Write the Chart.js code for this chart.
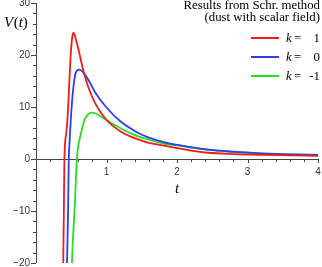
<!DOCTYPE html>
<html>
<head>
<meta charset="utf-8">
<script src="https://cdn.jsdelivr.net/npm/chart.js@4"></script>
<style>
  html, body { margin: 0; padding: 0; background: #fff; overflow: hidden; }
  canvas { display: block; }
</style>
</head>
<body>
<canvas id="chart" width="322" height="267"></canvas>
<script>
// k = 1
const tK1 = [0.375, 0.386, 0.395, 0.403, 0.43, 0.45, 0.47, 0.49, 0.51, 0.53, 0.55, 0.57, 0.60, 0.64, 0.67, 0.74, 0.84, 1.0, 1.2, 1.4, 1.6, 1.8, 2.0, 2.2, 2.44, 2.8, 3.2, 3.6, 4.0];
const vK1 = [-28, -20, -10, 0, 5, 8.5, 14, 19.5, 23, 24.3, 23.8, 22.8, 21.2, 18.8, 17.1, 13.9, 10.7, 7.5, 5.3, 4.0, 3.1, 2.6, 2.1, 1.6, 1.2, 0.95, 0.8, 0.7, 0.6];
// k = 0
const tK0 = [0.43, 0.44, 0.455, 0.465, 0.475, 0.51, 0.55, 0.58, 0.62, 0.66, 0.70, 0.77, 0.84, 1.0, 1.2, 1.4, 1.6, 1.8, 2.0, 2.2, 2.44, 2.8, 3.2, 3.6, 4.0];
const vK0 = [-28, -20, -10, 0, 3, 10.8, 15.8, 17, 17.2, 16.8, 16.1, 14.6, 12.8, 9.9, 7.2, 5.4, 4.1, 3.3, 2.7, 2.3, 1.8, 1.4, 1.1, 0.9, 0.8];
// k = -1
const tKm1 = [0.50, 0.51, 0.55, 0.58, 0.60, 0.63, 0.69, 0.74, 0.79, 0.84, 0.88, 1.0, 1.2, 1.4, 1.6, 1.8, 2.0, 2.2, 2.44, 2.8, 3.2, 3.6, 4.0];
const vKm1 = [-26, -20, -9, 0, 2.5, 4.5, 7.6, 8.6, 8.9, 8.8, 8.5, 7.5, 5.9, 4.6, 3.7, 3.0, 2.6, 2.2, 1.8, 1.35, 1.05, 0.9, 0.75];

const kValues = ["1", "0", "-1"];
const seriesColors = ["#f21a1a", "#2a40ee", "#22e022"];
const xTickLabels = [1, 2, 3, 4];
const yTickLabels = [-20, -10, 0, 10, 20, 30];
const legendTitle = ["Results from Schr. method", "(dust with scalar field)"];

const pts = (ts, vs) => ts.map((t, i) => ({ x: t, y: vs[i] }));

const axesPlugin = {
  id: "axes",
  beforeDatasetsDraw(chart) {
    const { ctx, scales: { x, y } } = chart;
    const x0 = x.getPixelForValue(0), y0 = y.getPixelForValue(0);
    ctx.save();
    ctx.strokeStyle = "#444";
    ctx.lineWidth = 1;
    ctx.beginPath();
    // y axis
    ctx.moveTo(x0 + 0.5, y.getPixelForValue(30));
    ctx.lineTo(x0 + 0.5, y.getPixelForValue(-20));
    // x axis
    ctx.moveTo(x0 - 5, Math.round(y0) + 0.5);
    ctx.lineTo(x.getPixelForValue(4), Math.round(y0) + 0.5);
    for (let v = -20; v <= 30; v += 2) {
      const py = Math.round(y.getPixelForValue(v)) + 0.5;
      ctx.moveTo(x0, py);
      ctx.lineTo(x0 - (v % 10 === 0 ? 5 : 3), py);
    }
    for (let i = 1; i <= 20; i++) {
      const px = Math.round(x.getPixelForValue(i / 5)) + 0.5;
      ctx.moveTo(px, y0);
      ctx.lineTo(px, y0 + (i % 5 === 0 ? 4 : 3));
    }
    ctx.stroke();

    ctx.fillStyle = "#333";
    ctx.font = "10px 'Liberation Sans'";
    ctx.textAlign = "right";
    ctx.textBaseline = "middle";
    yTickLabels.forEach(v => {
      ctx.fillText(v < 0 ? "\u2212" + (-v) : String(v), x0 - 6, y.getPixelForValue(v) + 0.5);
    });
    ctx.textAlign = "center";
    ctx.textBaseline = "top";
    xTickLabels.forEach(v => {
      ctx.fillText(String(v), x.getPixelForValue(v), y0 + 8);
    });
    ctx.restore();
  },
  afterDraw(chart) {
    const { ctx, scales: { x } } = chart;
    ctx.save();
    ctx.fillStyle = "#000";
    ctx.textBaseline = "alphabetic";
    // axis titles
    ctx.textAlign = "left";
    let px = 4;
    [["V", true], ["(", false], ["t", true], [")", false]].forEach(([s, it]) => {
      ctx.font = (it ? "italic " : "") + "15px 'Liberation Serif'";
      ctx.fillText(s, px, 27);
      px += ctx.measureText(s).width + (s === "V" ? 0.5 : 0);
    });
    ctx.font = "italic 15px 'Liberation Serif'";
    ctx.textAlign = "center";
    ctx.fillText("t", x.getPixelForValue(2), 193);

    // legend
    ctx.textAlign = "right";
    ctx.font = "12.8px 'Liberation Serif'";
    ctx.fillText(legendTitle[0], 320, 9);
    ctx.fillText(legendTitle[1], 320, 21);
    chart.data.datasets.forEach((ds, i) => {
      const ly = 38 + i * 19;
      ctx.strokeStyle = ds.borderColor;
      ctx.lineWidth = 2;
      ctx.beginPath();
      ctx.moveTo(251, ly);
      ctx.lineTo(279, ly);
      ctx.stroke();
      ctx.textAlign = "left";
      ctx.font = "italic 12.8px 'Liberation Serif'";
      ctx.fillText("k", 286, ly + 4);
      ctx.font = "12.8px 'Liberation Serif'";
      ctx.fillText("=", 294, ly + 4);
      ctx.textAlign = "right";
      ctx.fillText(kValues[i], 320, ly + 4);
    });
    ctx.restore();
  }
};

new Chart(document.getElementById("chart"), {
  type: "line",
  data: {
    datasets: [
      { label: "k = " + kValues[0], data: pts(tK1, vK1), borderColor: seriesColors[0] },
      { label: "k = " + kValues[1], data: pts(tK0, vK0), borderColor: seriesColors[1] },
      { label: "k = " + kValues[2], data: pts(tKm1, vKm1), borderColor: seriesColors[2] }
    ].map(d => Object.assign(d, { borderWidth: 1.8, pointRadius: 0, fill: false, cubicInterpolationMode: "monotone" }))
  },
  options: {
    responsive: false,
    animation: false,
    layout: { padding: { left: 36, right: 4, top: 3, bottom: 4 } },
    plugins: { legend: { display: false }, tooltip: { enabled: false } },
    scales: {
      x: { type: "linear", min: 0, max: 4, display: false },
      y: { type: "linear", min: -20, max: 30, display: false }
    }
  },
  plugins: [axesPlugin]
});
</script>
</body>
</html>
